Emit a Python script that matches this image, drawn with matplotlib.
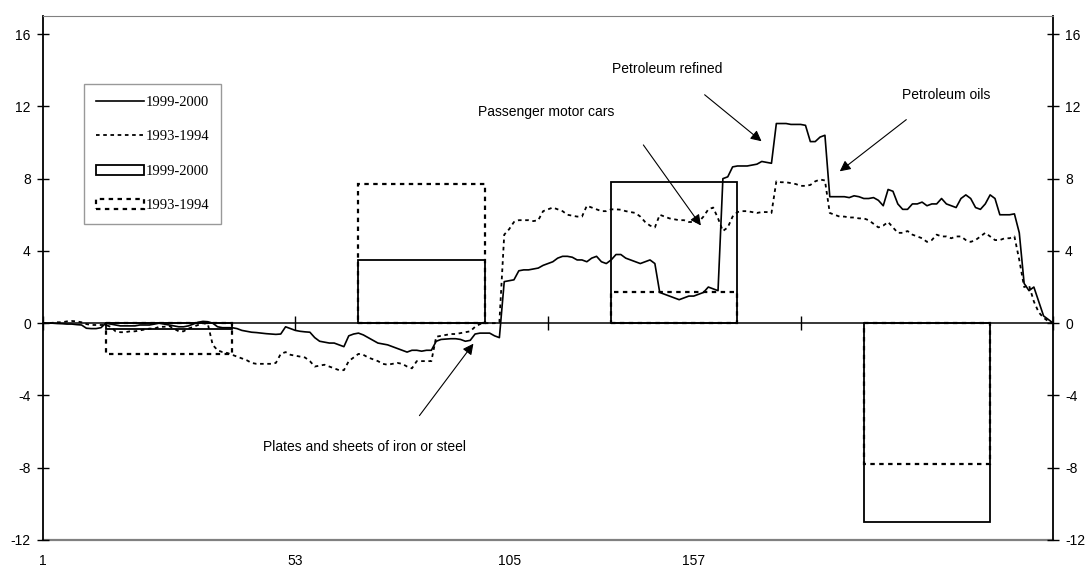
import matplotlib.pyplot as plt
from matplotlib.lines import Line2D
from matplotlib.patches import Patch
import numpy as np

plt.rcParams['font.family'] = ['Liberation Sans', 'DejaVu Sans']
plt.rcParams['axes.unicode_minus'] = False

# line series, one value per category (1..209)
line_9900 = [
    0, 0, 0, -0.02, -0.03, -0.05, -0.05, -0.08, -0.1, -0.28,
    -0.3, -0.3, -0.25, 0.0, -0.05, -0.1, -0.15, -0.15, -0.15, -0.15,
    -0.1, -0.1, -0.1, -0.05, 0.0, -0.05, -0.1, -0.15, -0.2, -0.2,
    -0.15, -0.05, 0.05, 0.1, 0.08, 0.0, -0.2, -0.25, -0.25, -0.25,
    -0.3, -0.4, -0.45, -0.5, -0.52, -0.55, -0.58, -0.6, -0.62, -0.6,
    -0.2, -0.3, -0.4, -0.45, -0.48, -0.5, -0.8, -1.0, -1.05, -1.1,
    -1.1, -1.2, -1.3, -0.7, -0.6, -0.55, -0.65, -0.8, -0.95, -1.1,
    -1.15, -1.2, -1.3, -1.4, -1.5, -1.6, -1.5, -1.5, -1.55, -1.5,
    -1.5, -1.0, -0.9, -0.88, -0.86, -0.86, -0.9, -1.0, -0.95, -0.6,
    -0.55, -0.55, -0.55, -0.7, -0.8, 2.3, 2.35, 2.4, 2.9, 2.95,
    2.95, 3.0, 3.05, 3.2, 3.3, 3.4, 3.6, 3.7, 3.7, 3.65,
    3.5, 3.5, 3.4, 3.6, 3.7, 3.4, 3.3, 3.5, 3.8, 3.8,
    3.6, 3.5, 3.4, 3.3, 3.4, 3.5, 3.3, 1.7, 1.6, 1.5,
    1.4, 1.3, 1.4, 1.5, 1.5, 1.6, 1.7, 2.0, 1.9, 1.8,
    8.0, 8.1, 8.65, 8.7, 8.7, 8.7, 8.75, 8.8, 8.95, 8.9,
    8.85, 11.05, 11.05, 11.05, 11.0, 11.0, 11.0, 10.95, 10.05, 10.05,
    10.3, 10.4, 7.0, 7.0, 7.0, 7.0, 6.95, 7.05, 7.0, 6.9,
    6.9, 6.95, 6.8, 6.5, 7.4, 7.3, 6.6, 6.3, 6.3, 6.6,
    6.6, 6.7, 6.5, 6.6, 6.6, 6.9, 6.6, 6.5, 6.4, 6.9,
    7.1, 6.9, 6.4, 6.3, 6.6, 7.1, 6.9, 6.0, 6.0, 6.0,
    6.05, 5.0, 2.2, 1.8, 2.0, 1.2, 0.4, 0.2, 0.0,
]
line_9394 = [
    0, 0, 0.02, 0.05, 0.05, 0.1, 0.12, 0.1, 0.05, -0.05,
    -0.1, -0.1, -0.1, -0.1, -0.2, -0.45, -0.5, -0.5, -0.45, -0.45,
    -0.4, -0.35, -0.3, -0.3, -0.2, -0.2, -0.15, -0.3, -0.45, -0.45,
    -0.3, -0.2, -0.1, 0.0, -0.05, -1.2, -1.5, -1.6, -1.65, -1.75,
    -1.85, -1.95, -2.05, -2.2, -2.25, -2.25, -2.25, -2.25, -2.2, -1.7,
    -1.6, -1.75, -1.8, -1.85, -1.9, -2.1, -2.4, -2.35, -2.3, -2.4,
    -2.5, -2.6, -2.6, -2.1, -1.9, -1.7, -1.75, -1.9, -2.0, -2.1,
    -2.25, -2.3, -2.25, -2.2, -2.25, -2.4, -2.5, -2.1, -2.1, -2.1,
    -2.1, -0.75, -0.7, -0.65, -0.6, -0.6, -0.55, -0.5, -0.45, -0.2,
    -0.05, 0.0, 0.0, 0.0, 0.05, 4.9, 5.2, 5.6, 5.7, 5.7,
    5.7, 5.65, 5.7, 6.2, 6.3, 6.4, 6.3, 6.2, 6.0, 5.95,
    5.9, 5.9, 6.5, 6.4, 6.3, 6.2, 6.2, 6.3, 6.3, 6.28,
    6.2, 6.15, 6.1, 5.9, 5.6, 5.4, 5.3, 6.0, 5.9, 5.8,
    5.75, 5.7, 5.7, 5.6, 5.6, 5.6, 5.9, 6.3, 6.4, 5.8,
    5.1, 5.3, 5.9, 6.15, 6.2, 6.2, 6.15, 6.1, 6.15, 6.15,
    6.1, 7.85, 7.8, 7.8, 7.75, 7.7, 7.6, 7.6, 7.65, 7.85,
    7.95, 7.9, 6.1, 6.0, 5.9, 5.9, 5.85, 5.85, 5.8, 5.8,
    5.7, 5.5, 5.3, 5.4, 5.6, 5.3, 5.0, 5.0, 5.1, 4.9,
    4.8, 4.7, 4.5, 4.6, 4.9, 4.8, 4.8, 4.7, 4.8, 4.8,
    4.6, 4.5, 4.6, 4.8, 5.0, 4.8, 4.6, 4.6, 4.7, 4.7,
    4.8, 3.5, 2.0, 2.1, 1.2, 0.6, 0.3, 0.1, 0.0,
]

# box series, one per group of 52 categories
box_pos = [27, 79, 131, 183]
box_9900 = [-0.3, 3.5, 7.8, -11.0]
box_9394 = [-1.7, 7.7, 1.7, -7.8]

x = np.arange(1, len(line_9900) + 1)
tick_pos = [1, 53, 105, 157, 209]
label_pos = [1, 53, 97, 135]
label_txt = ['1', '53', '105', '157']

fig = plt.figure(figsize=(10.88, 5.68), dpi=100)
ax = fig.add_axes([0.0392, 0.0493, 0.9289, 0.9225])

dots = (0, (2, 2))
ax.bar(box_pos, box_9394, width=26, fill=False, edgecolor='black', lw=1.6, linestyle=dots)
ax.bar(box_pos, box_9900, width=26, fill=False, edgecolor='black', lw=1.3)
ax.plot(x, line_9900, color='black', lw=1.2)
ax.plot(x, line_9394, color='black', lw=1.3, linestyle=dots)

ax.set_xlim(1, 209)
ax.set_ylim(-12, 17)
ax.set_yticks(np.arange(-12, 17, 4))
ax.tick_params(axis='y', direction='inout', length=9, width=1,
               left=True, right=True, labelleft=True, labelright=True,
               labelsize=10, pad=4)

# category axis on the zero line
ax.spines['bottom'].set_position(('data', 0))
ax.spines['bottom'].set_linewidth(1.1)
ax.set_xticks(tick_pos)
ax.tick_params(axis='x', direction='inout', length=10, width=1, labelbottom=False)
ax.spines['top'].set_color('#808080')
for s in ['left', 'right']:
    ax.spines[s].set_linewidth(1.3)

sec = ax.secondary_xaxis(location=0)
sec.spines['bottom'].set_position(('axes', 0))
sec.spines['bottom'].set_color('#808080')
sec.spines['bottom'].set_linewidth(1.6)
sec.set_xticks(label_pos)
sec.set_xticklabels(label_txt)
sec.tick_params(length=0, pad=10, labelsize=10)

arrow = dict(arrowstyle='-|>', color='black', lw=0.8, mutation_scale=16)
ax.text(129.6, 14.07, 'Petroleum refined', ha='center', va='center', fontsize=10)
ax.annotate('', xy=(149.4, 9.97), xytext=(136.8, 12.74), arrowprops=arrow)
ax.text(187.0, 12.64, 'Petroleum oils', ha='center', va='center', fontsize=10)
ax.annotate('', xy=(164.6, 8.31), xytext=(179.2, 11.36), arrowprops=arrow)
ax.text(104.6, 11.7, 'Passenger motor cars', ha='center', va='center', fontsize=10)
ax.annotate('', xy=(136.8, 5.28), xytext=(124.3, 9.99), arrowprops=arrow)
ax.text(67.3, -6.84, 'Plates and sheets of iron or steel', ha='center', va='center', fontsize=10)
ax.annotate('', xy=(90.0, -1.01), xytext=(78.2, -5.24), arrowprops=arrow)

handles = [
    Line2D([], [], color='black', lw=1.2),
    Line2D([], [], color='black', lw=1.3, linestyle=dots),
    Patch(facecolor='none', edgecolor='black', lw=1.3),
    Patch(facecolor='none', edgecolor='black', lw=1.6, linestyle=dots),
]
labels = ['1999-2000', '1993-1994', '1999-2000', '1993-1994']
leg = ax.legend(handles, labels, loc='upper left', bbox_to_anchor=(0.0409, 0.870),
                frameon=True, fancybox=False, edgecolor='#808080',
                prop={'family': 'Liberation Serif', 'size': 10.5},
                handlelength=3.3, handletextpad=0.1, labelspacing=1.45,
                borderpad=0.8, borderaxespad=0)
leg.get_frame().set_linewidth(1.0)

fig.savefig('out.png', dpi=100)
